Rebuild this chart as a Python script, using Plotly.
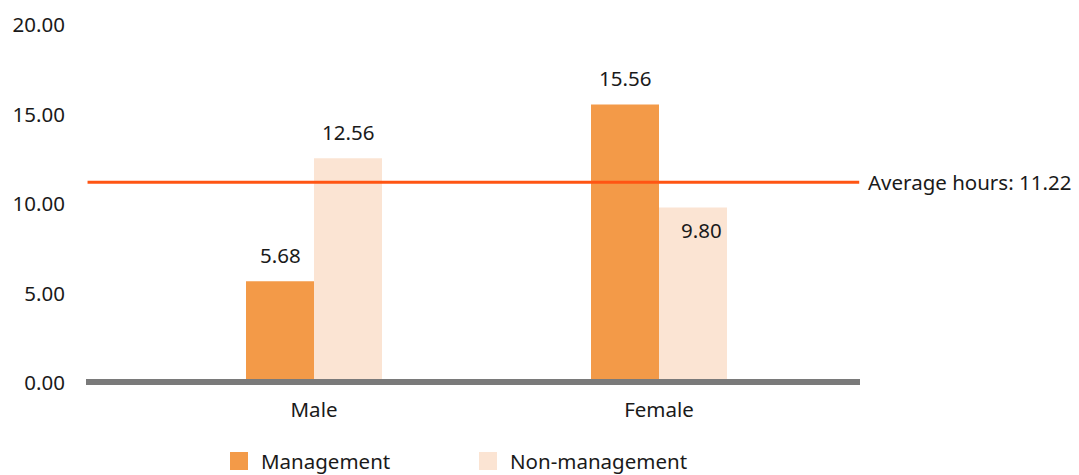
import plotly.graph_objects as go

# ---- data ----
categories = ["Male", "Female"]
management = [5.68, 15.56]
non_management = [12.56, 9.80]
average_hours = 11.22
y_tick_values = [0, 5, 10, 15, 20]
y_tick_labels = ["0.00", "5.00", "10.00", "15.00", "20.00"]
series_names = ["Management", "Non-management"]

# ---- styling ----
FONT = "Noto Sans"
TEXT = "#1a1a1a"
C_MGMT = "#F39A48"
C_NONMGMT = "#FBE4D3"
C_AVG = "#FF5513"
C_BASE = "#7a7a7a"
FS = 20.5

W, H = 1079, 475
L, R, T, B = 86, 219, 25, 92
plot_w = W - L - R
plot_h = H - T - B

# category axis: centres 345 px apart, first centre 228 px from the left edge
step_px = 345
first_px = 228
x_lo = -first_px / step_px
x_hi = x_lo + plot_w / step_px
bar_px = 68


def px_x(px):
    return (px - L) / plot_w


def px_y(py):
    return (H - B - py) / plot_h


fig = go.Figure()
fig.add_trace(go.Bar(x=categories, y=management, name=series_names[0],
                     marker=dict(color=C_MGMT, line=dict(width=0)), showlegend=False))
fig.add_trace(go.Bar(x=categories, y=non_management, name=series_names[1],
                     marker=dict(color=C_NONMGMT, line=dict(width=0)), showlegend=False))

annotations = []
# value labels above bars (inside the top when the label would cross the average line)
for vals, shift in ((management, -bar_px / 2), (non_management, bar_px / 2)):
    for cat, v in zip(categories, vals):
        inside = v < average_hours and v > average_hours - 2
        annotations.append(dict(
            x=cat, y=v, xref="x", yref="y", text=f"{v:.2f}", showarrow=False,
            xshift=shift + (8 if inside else 0), yshift=-22 if inside else 26,
            yanchor="middle", xanchor="center",
            font=dict(family=FONT, size=FS, color=TEXT)))

# average line label
annotations.append(dict(
    x=1, y=average_hours, xref="paper", yref="y", xshift=6,
    text=f"Average hours: {average_hours:.2f}", showarrow=False,
    xanchor="left", yanchor="middle",
    font=dict(family=FONT, size=FS, color=TEXT)))

shapes = [
    # axis baseline, referenced to paper so its full thickness is drawn
    dict(type="line", xref="paper", yref="paper", x0=0, x1=1,
         y0=px_y(382), y1=px_y(382),
         line=dict(color=C_BASE, width=6), layer="above"),
    dict(type="line", xref="paper", yref="y", x0=0.002, x1=0.999,
         y0=average_hours, y1=average_hours,
         line=dict(color=C_AVG, width=3), layer="above"),
]

# legend drawn as swatches + labels under the axis
legend_items = [(series_names[0], C_MGMT, 230), (series_names[1], C_NONMGMT, 479)]
for name, color, left in legend_items:
    shapes.append(dict(type="rect", xref="paper", yref="paper",
                       x0=px_x(left), x1=px_x(left + 18),
                       y0=px_y(452), y1=px_y(470),
                       fillcolor=color, line=dict(width=0)))
    annotations.append(dict(x=px_x(left + 29), y=px_y(461), xref="paper", yref="paper",
                            text=name, showarrow=False, xanchor="left", yanchor="middle",
                            font=dict(family=FONT, size=FS, color=TEXT)))

fig.update_layout(
    width=W, height=H,
    margin=dict(l=L, r=R, t=T, b=B, autoexpand=False),
    paper_bgcolor="white", plot_bgcolor="white",
    barmode="group", bargap=1 - 2 * bar_px / step_px, bargroupgap=0,
    font=dict(family=FONT, size=FS, color=TEXT),
    xaxis=dict(range=[x_lo, x_hi], showgrid=False, zeroline=False, showline=False,
               ticks="", ticklabelstandoff=12,
               tickfont=dict(family=FONT, size=FS, color=TEXT)),
    yaxis=dict(range=[0, 20], tickvals=y_tick_values, ticktext=y_tick_labels,
               showgrid=False, zeroline=False, showline=False, ticks="",
               ticklabelstandoff=20,
               tickfont=dict(family=FONT, size=FS, color=TEXT)),
    shapes=shapes, annotations=annotations,
)

fig.write_html("out.html")
